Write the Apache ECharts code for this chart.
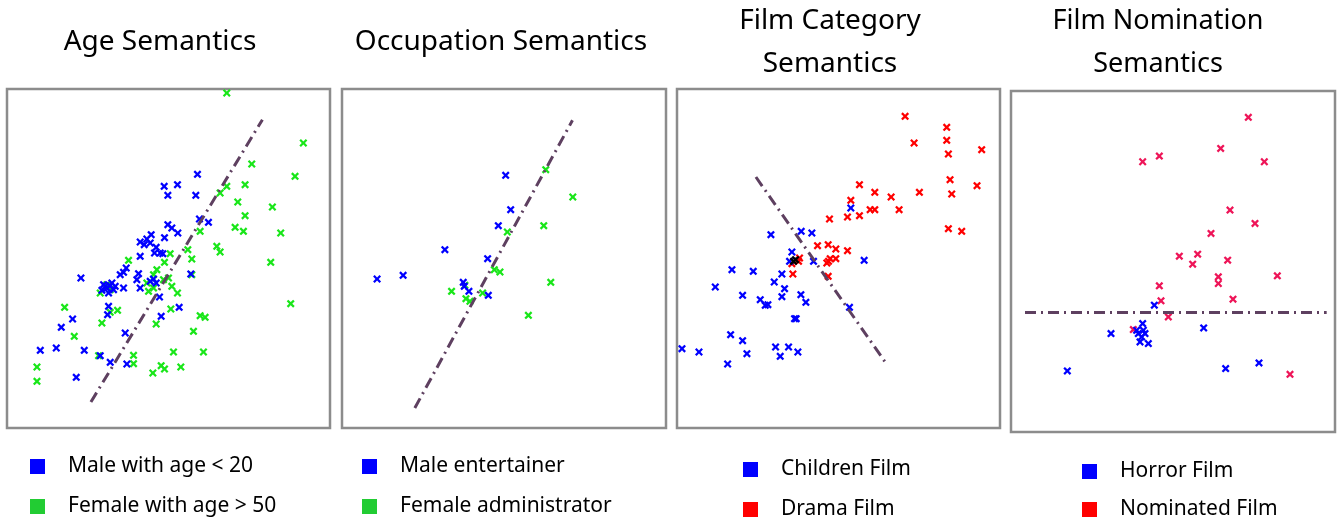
<!DOCTYPE html>
<html>
<head>
<meta charset="utf-8">
<script src="https://cdn.jsdelivr.net/npm/echarts@6/dist/echarts.min.js"></script>
<style>
html,body{margin:0;padding:0;background:#fff;}
#chart{width:1343px;height:523px;}
</style>
</head>
<body>
<div id="chart"></div>
<script>
// Panel titles
const titles = ["Age Semantics", "Occupation Semantics", "Film Category\nSemantics", "Film Nomination\nSemantics"];

// Series names (legend labels)
const names1 = ["Male with age < 20", "Female with age > 50"];
const names2 = ["Male entertainer", "Female administrator"];
const names3 = ["Children Film", "Drama Film"];
const names4 = ["Horror Film", "Nominated Film"];

// Panel 1: Age semantics (embedding coordinates, arbitrary units)
const p1Blue = [[572,761],[472,725],[512,730],[483,698],[567,698],[578,627],[605,617],[483,610],[495,600],[513,585],
 [473,571],[433,580],[420,567],[400,558],[412,550],[430,555],[448,542],[443,525],[460,525],[468,523],[400,515],
 [358,480],[350,467],[340,460],[395,463],[390,445],[400,420],[430,440],[440,447],[448,435],[552,462],[222,450],
 [290,430],[300,420],[315,435],[325,425],[285,413],[305,405],[320,415],[350,420],[295,425],[310,427],
 [458,393],[517,362],[305,365],[302,340],[463,335],[197,327],[163,302],[355,285],[100,233],[148,240],[232,233],
 [280,217],[310,197],[360,192],[208,152]];
const p1Green = [[660,1005],[890,855],[735,792],[865,755],[660,725],[715,730],[640,705],[693,678],[797,663],[715,637],
 [685,602],[710,590],[822,585],[580,590],[630,545],[640,528],[543,535],[555,507],[792,497],[490,523],[473,497],
 [365,503],[450,475],[440,460],[470,445],[485,450],[495,425],[512,405],[420,435],[425,410],[440,420],[300,430],
 [280,405],[310,415],[852,373],[173,362],[332,353],[310,347],[492,357],[580,337],[595,332],[448,312],[285,315],
 [560,290],[202,275],[500,228],[590,228],[380,218],[275,217],[380,193],[463,187],[473,177],[522,183],[438,165],
 [90,183],[90,140],[555,460]];
const p1Line = [[252,78],[767,925]];

// Panel 2: Occupation semantics
const p2Blue = [[490,758],[505,655],[468,607],[308,535],[436,508],[105,447],[183,458],[363,437],[366,425],[380,410],[438,398]];
const p2Green = [[610,775],[691,693],[604,607],[495,588],[456,475],[473,468],[625,437],[328,410],[368,428],[371,388],[383,380],[421,405],[558,338]];
const p2Line = [[218,60],[690,923]];

// Panel 3: Film category semantics
const p3Blue = [[522,660],[373,590],[405,585],[282,580],[345,528],[338,500],[410,500],[562,503],[165,475],[229,470],
 [315,462],[292,438],[115,423],[323,418],[197,398],[315,394],[372,400],[250,385],[265,368],[273,370],[387,377],
 [518,362],[353,328],[358,328],[161,280],[197,262],[15,238],[66,228],[210,223],[296,243],[335,243],[363,228],
 [310,215],[152,192]];
const p3Red = [[685,935],[810,902],[810,863],[712,855],[815,822],[915,835],[820,745],[548,730],[901,727],[594,707],
 [728,707],[825,702],[643,693],[522,683],[580,655],[594,655],[667,655],[548,637],[512,633],[458,627],[815,598],
 [855,590],[422,547],[454,550],[477,537],[512,532],[460,508],[477,508],[450,495],[455,500],[368,510],[365,500],
 [345,493],[348,462],[454,455]];
const p3Both = [[350,500],[356,505]];
const p3Line = [[237,753],[625,198]];

// Panel 4: Film nomination semantics
const p4Blue = [[430,380],[395,325],[300,295],[382,295],[392,285],[402,295],[387,270],[412,265],[377,305],[397,305],
 [578,312],[169,183],[644,190],[744,207]];
const p4Red = [[712,943],[629,850],[445,827],[395,810],[760,810],[657,665],[732,625],[600,595],[505,527],[560,533],
 [545,503],[650,515],[622,465],[622,445],[799,468],[445,438],[450,393],[666,398],[472,345],[367,307],[837,173]];
const p4Line = [[42,358],[947,358]];

const FONT = '"Comic Sans MS", "Noto Sans", sans-serif';
const CROSS = 'path://M0,2L2,0L5,3L8,0L10,2L7,5L10,8L8,10L5,7L2,10L0,8L3,5Z';
const BLUE = '#0000ff', GREEN = '#19e619', RED = '#ff0000', PINK = '#ee1558', LINEC = '#5e4060';

const grids = [
  {left: 7, top: 89, width: 323, height: 339, xmax: 970, ymax: 1017},
  {left: 342, top: 89, width: 324, height: 339, xmax: 970, ymax: 1017},
  {left: 677, top: 89, width: 323, height: 339, xmax: 970, ymax: 1017},
  {left: 1011, top: 91, width: 324, height: 341, xmax: 972, ymax: 1022}
];

const option = {
  animation: false,
  backgroundColor: '#fff',
  title: [
    {text: titles[0], left: 160, top: 26, textAlign: 'center', padding: 0, textStyle: {fontFamily: FONT, fontSize: 28, fontWeight: 'normal', color: '#000', lineHeight: 32}},
    {text: titles[1], left: 501, top: 26, textAlign: 'center', padding: 0, textStyle: {fontFamily: FONT, fontSize: 28, fontWeight: 'normal', color: '#000', lineHeight: 32}},
    {text: titles[2], left: 830, top: 0, textAlign: 'center', padding: 0, textStyle: {fontFamily: FONT, fontSize: 28, fontWeight: 'normal', color: '#000', lineHeight: 43}},
    {text: titles[3], left: 1158, top: 0, textAlign: 'center', padding: 0, textStyle: {fontFamily: FONT, fontSize: 27, fontWeight: 'normal', color: '#000', lineHeight: 43}}
  ],
  grid: grids.map(g => ({left: g.left, top: g.top, width: g.width, height: g.height, show: true, borderColor: '#8c8c8c', borderWidth: 2.5, backgroundColor: '#fff'})),
  xAxis: grids.map((g, i) => ({type: 'value', gridIndex: i, min: 0, max: g.xmax, show: false})),
  yAxis: grids.map((g, i) => ({type: 'value', gridIndex: i, min: 0, max: g.ymax, show: false})),
  legend: [
    {left: 30, top: 456, names: names1, colors: [BLUE, '#22cc33'], gap: 19},
    {left: 362, top: 456, names: names2, colors: [BLUE, '#22cc33'], gap: 19},
    {left: 743, top: 459, names: names3, colors: [BLUE, RED], gap: 19},
    {left: 1082, top: 461, names: names4, colors: [BLUE, RED], gap: 17}
  ].map(l => ({
    left: l.left, top: l.top, orient: 'vertical', itemWidth: 15, itemHeight: 15, itemGap: l.gap,
    selectedMode: false, padding: 0, icon: 'rect',
    data: l.names.map((n, k) => ({name: n, icon: 'rect', itemStyle: {color: l.colors[k]}})),
    textStyle: {fontFamily: FONT, fontSize: 21, color: '#000', lineHeight: 20, padding: [0, 0, 0, 18]}
  })),
  series: []
};

function scatter(name, data, idx, color, z) {
  return {name: name, type: 'scatter', xAxisIndex: idx, yAxisIndex: idx, data: data, symbol: CROSS, symbolSize: 8,
    itemStyle: {color: color, opacity: 1}, z: z || 2, silent: true};
}
function divider(data, idx) {
  return {type: 'line', xAxisIndex: idx, yAxisIndex: idx, data: data, symbol: 'none', silent: true, z: 3,
    lineStyle: {color: LINEC, width: 3, type: [11, 5, 2, 5]}};
}

option.series.push(
  scatter(names1[1], p1Green, 0, GREEN), scatter(names1[0], p1Blue, 0, BLUE), divider(p1Line, 0),
  scatter(names2[1], p2Green, 1, GREEN), scatter(names2[0], p2Blue, 1, BLUE), divider(p2Line, 1),
  scatter(names3[1], p3Red, 2, RED), scatter(names3[0], p3Blue, 2, BLUE), scatter('overlap', p3Both, 2, '#000'), divider(p3Line, 2),
  scatter(names4[1], p4Red, 3, PINK), scatter(names4[0], p4Blue, 3, BLUE), divider(p4Line, 3)
);

const chart = echarts.init(document.getElementById('chart'), null, {renderer: 'canvas'});
chart.setOption(option);
</script>
</body>
</html>
